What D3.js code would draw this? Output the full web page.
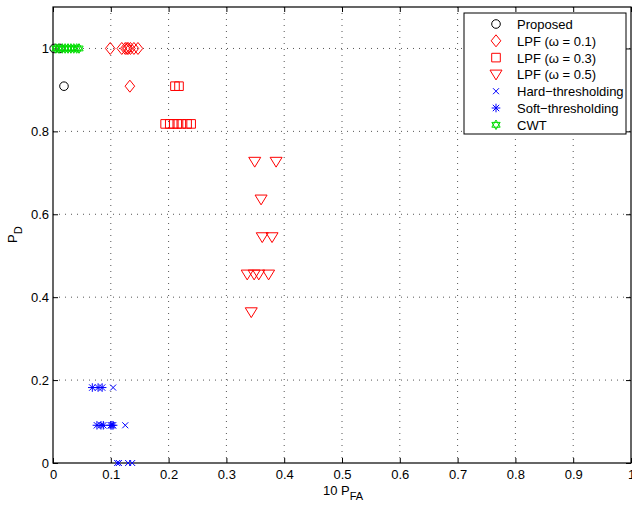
<html>
<head>
<script src="https://d3js.org/d3.v7.min.js"></script>
<style>
  body { margin: 0; background: #fff; }
  text { font-family: "Liberation Sans", Arial, sans-serif; }
</style>
</head>
<body>
<svg id="chart" width="632" height="506"></svg>
<script>
// values (y values sit on multiples of 1/11)
var xTicks = [0, 0.1, 0.2, 0.3, 0.4, 0.5, 0.6, 0.7, 0.8, 0.9, 1];
var yTicks = [0, 0.2, 0.4, 0.6, 0.8, 1];

var proposed = [[0.002, 1.0], [0.012, 1.0], [0.019, 0.909]];
var lpf01 = [[0.099, 1.0], [0.119, 1.0], [0.125, 1.0], [0.128, 1.0], [0.130, 1.0],
             [0.134, 1.0], [0.140, 1.0], [0.147, 1.0], [0.133, 0.909]];
var lpf03 = [[0.211, 0.909], [0.218, 0.909], [0.194, 0.818], [0.202, 0.818],
             [0.209, 0.818], [0.215, 0.818], [0.222, 0.818], [0.232, 0.818], [0.239, 0.818]];
var lpf05 = [[0.349, 0.727], [0.386, 0.727], [0.360, 0.636], [0.362, 0.545], [0.379, 0.545],
             [0.336, 0.455], [0.348, 0.455], [0.356, 0.455], [0.373, 0.455], [0.343, 0.364]];
var hard = [[0.104, 0.182], [0.125, 0.091], [0.111, 0.0], [0.114, 0.0], [0.130, 0.0], [0.137, 0.0]];
var soft = [[0.068, 0.182], [0.078, 0.182], [0.085, 0.182], [0.076, 0.091], [0.083, 0.091],
            [0.087, 0.091], [0.100, 0.091], [0.102, 0.091], [0.104, 0.091]];
var cwt = [[0.005, 1.0], [0.010, 1.0], [0.016, 1.0], [0.021, 1.0], [0.026, 1.0],
           [0.031, 1.0], [0.036, 1.0], [0.041, 1.0], [0.045, 1.0]];

var legendNames = ["Proposed", "LPF (\u03c9 = 0.1)", "LPF (\u03c9 = 0.3)", "LPF (\u03c9 = 0.5)",
                   "Hard\u2212thresholding", "Soft\u2212thresholding", "CWT"];

// marker paths centred on 0,0
function markerPath(type) {
  var p = d3.path();
  if (type === "circle") {
    p.moveTo(4.3, 0); p.arc(0, 0, 4.3, 0, 2 * Math.PI);
  } else if (type === "diamond") {
    p.moveTo(0, -6); p.lineTo(4.8, 0); p.lineTo(0, 6); p.lineTo(-4.8, 0); p.closePath();
  } else if (type === "square") {
    p.rect(-4.3, -4.3, 8.6, 8.6);
  } else if (type === "tri") {
    p.moveTo(-6, -4.3); p.lineTo(6, -4.3); p.lineTo(0, 5.5); p.closePath();
  } else if (type === "x") {
    p.moveTo(-3, -3); p.lineTo(3, 3); p.moveTo(-3, 3); p.lineTo(3, -3);
  } else if (type === "star") {
    p.moveTo(-4.3, 0); p.lineTo(4.3, 0); p.moveTo(0, -4.3); p.lineTo(0, 4.3);
    p.moveTo(-3.2, -3.2); p.lineTo(3.2, 3.2); p.moveTo(-3.2, 3.2); p.lineTo(3.2, -3.2);
  } else if (type === "hex") {
    var r = 4.8;
    for (var k = 0; k < 2; k++) {
      for (var i = 0; i < 3; i++) {
        var a = (k === 0 ? -Math.PI / 2 : Math.PI / 2) + i * 2 * Math.PI / 3;
        if (i === 0) p.moveTo(r * Math.cos(a), r * Math.sin(a));
        else p.lineTo(r * Math.cos(a), r * Math.sin(a));
      }
      p.closePath();
    }
  }
  return p.toString();
}

var series = [
  { data: proposed, type: "circle", color: "#000" },
  { data: lpf01, type: "diamond", color: "#ff0000" },
  { data: lpf03, type: "square", color: "#ff0000" },
  { data: lpf05, type: "tri", color: "#ff0000" },
  { data: hard, type: "x", color: "#0000ff" },
  { data: soft, type: "star", color: "#0000ff" },
  { data: cwt, type: "hex", color: "#00dd00" }
];

var svg = d3.select("#chart"),
  margin = { top: 7, right: 1, bottom: 43, left: 53 },
  width = +svg.attr("width") - margin.left - margin.right,
  height = +svg.attr("height") - margin.top - margin.bottom,
  g = svg.append("g").attr("transform", "translate(" + margin.left + "," + margin.top + ")");

var x = d3.scaleLinear().domain([0, 1]).range([0, width]);
var y = d3.scaleLinear().domain([0, 1.1]).range([height, 0]);

// dotted grid
g.selectAll(".gx").data(xTicks.slice(1, -1)).enter().append("line")
  .attr("x1", d => x(d)).attr("x2", d => x(d)).attr("y1", 0).attr("y2", height)
  .attr("stroke", "#555").attr("stroke-dasharray", "1,5");
g.selectAll(".gy").data(yTicks.slice(1)).enter().append("line")
  .attr("x1", 0).attr("x2", width).attr("y1", d => y(d)).attr("y2", d => y(d))
  .attr("stroke", "#555").attr("stroke-dasharray", "1,5");

// axes with inward ticks (box style)
function styleAxis(sel) {
  sel.select(".domain").remove();
  sel.selectAll("line").attr("stroke", "#000");
  sel.selectAll("text").attr("font-size", 13).attr("fill", "#000")
    .style("font-family", "'Liberation Sans', Arial, sans-serif");
}
g.append("g").attr("transform", "translate(0," + height + ")")
  .call(d3.axisBottom(x).tickValues(xTicks).tickFormat(d3.format("")).tickSizeInner(-5).tickPadding(7))
  .call(styleAxis);
g.append("g")
  .call(d3.axisTop(x).tickValues(xTicks).tickFormat("").tickSizeInner(-5))
  .call(styleAxis);
g.append("g")
  .call(d3.axisLeft(y).tickValues(yTicks).tickFormat(d3.format("")).tickSizeInner(-5).tickPadding(4))
  .call(styleAxis);
g.append("g").attr("transform", "translate(" + width + ",0)")
  .call(d3.axisRight(y).tickValues(yTicks).tickFormat("").tickSizeInner(-5))
  .call(styleAxis);

g.append("rect").attr("width", width).attr("height", height)
  .attr("fill", "none").attr("stroke", "#000").attr("stroke-width", 1.2);

// points
series.forEach(function (s) {
  g.append("g").selectAll("path").data(s.data).enter().append("path")
    .attr("d", markerPath(s.type))
    .attr("transform", d => "translate(" + x(d[0]) + "," + y(d[1]) + ")")
    .attr("fill", "none").attr("stroke", s.color).attr("stroke-width", 1);
});

// axis labels
var xl = svg.append("text").attr("x", 323).attr("y", 495).attr("font-size", 13);
xl.append("tspan").text("10 P");
xl.append("tspan").attr("dy", 5).attr("font-size", 11).text("FA");
var yl = svg.append("text").attr("transform", "translate(17,243) rotate(-90)").attr("font-size", 13);
yl.append("tspan").text("P");
yl.append("tspan").attr("dy", 5).attr("font-size", 11).text("D");

// legend
var lg = svg.append("g").attr("transform", "translate(464,13)");
lg.append("rect").attr("width", 162).attr("height", 121)
  .attr("fill", "#fff").attr("stroke", "#000");
series.forEach(function (s, i) {
  var yy = 11 + i * 16.8;
  lg.append("path").attr("d", markerPath(s.type))
    .attr("transform", "translate(32," + yy + ")")
    .attr("fill", "none").attr("stroke", s.color);
  lg.append("text").attr("x", 53).attr("y", yy + 5).attr("font-size", 13).text(legendNames[i]);
});
</script>
</body>
</html>
